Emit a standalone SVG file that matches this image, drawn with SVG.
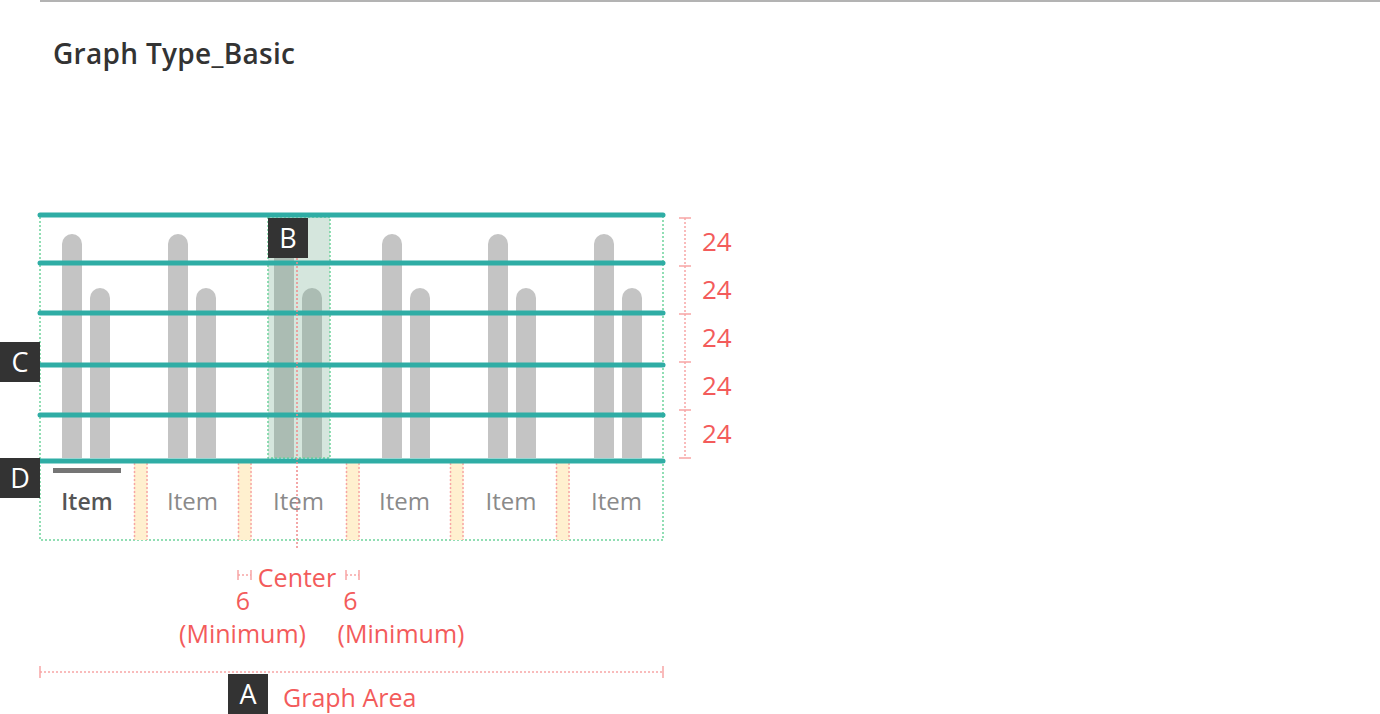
<svg xmlns="http://www.w3.org/2000/svg" width="1380" height="714" viewBox="0 0 1380 714">
<style>
.t{font-family:"Open Sans","Liberation Sans",sans-serif}
.red{fill:#f35b5b;font-size:25px}
.bar{fill:#c4c4c4}
.teal{stroke:#2fada5;stroke-width:5;stroke-linecap:round}
.gdot{fill:none;stroke:#6dd39c;stroke-width:1.5;stroke-dasharray:2 2}
.rdot{stroke:#f7a5a5;stroke-width:1.5;stroke-dasharray:2 2;fill:none}
.tick{stroke:#f7a5a5;stroke-width:1.5}
.box{fill:#333}
.boxt{fill:#fff;font-size:27px;text-anchor:middle}
.item{font-size:24px;fill:#8a8a8a;text-anchor:middle}
.gap{fill:#fff0cf}
</style>
<rect width="1380" height="714" fill="#fff"/>
<line x1="40" y1="1" x2="1380" y2="1" stroke="#b3b3b3" stroke-width="2"/>
<g id="title"><text class="t" x="53" y="64" font-size="28" font-weight="600" letter-spacing="0.3" fill="#333">Graph Type_Basic</text></g>

<g id="graph-area">
<rect class="gdot" x="40" y="215" width="623" height="325"/>
</g>

<g id="gaps">
<rect class="gap" x="134" y="463" width="13.5" height="77"/>
<rect class="gap" x="238" y="463" width="13.5" height="77"/>
<rect class="gap" x="346" y="463" width="13.5" height="77"/>
<rect class="gap" x="450" y="463" width="13.5" height="77"/>
<rect class="gap" x="556" y="463" width="13.5" height="77"/>
<path class="rdot" d="M134.5 463V540M147 463V540M238.5 463V540M251 463V540M346.5 463V540M359 463V540M450.5 463V540M463 463V540M556.5 463V540M569 463V540"/>
</g>

<g id="bars">
<path class="bar" d="M62 458V244A10 10 0 0 1 82 244V458Z"/>
<path class="bar" d="M90 458V298A10 10 0 0 1 110 298V458Z"/>
<path class="bar" d="M168 458V244A10 10 0 0 1 188 244V458Z"/>
<path class="bar" d="M196 458V298A10 10 0 0 1 216 298V458Z"/>
<path class="bar" d="M274 458V244A10 10 0 0 1 294 244V458Z"/>
<path class="bar" d="M302 458V298A10 10 0 0 1 322 298V458Z"/>
<path class="bar" d="M382 458V244A10 10 0 0 1 402 244V458Z"/>
<path class="bar" d="M410 458V298A10 10 0 0 1 430 298V458Z"/>
<path class="bar" d="M488 458V244A10 10 0 0 1 508 244V458Z"/>
<path class="bar" d="M516 458V298A10 10 0 0 1 536 298V458Z"/>
<path class="bar" d="M594 458V244A10 10 0 0 1 614 244V458Z"/>
<path class="bar" d="M622 458V298A10 10 0 0 1 642 298V458Z"/>
</g>

<g id="highlight">
<rect x="268" y="217" width="62" height="241" fill="rgb(109,168,137)" fill-opacity="0.29"/>
<rect class="gdot" x="268" y="217" width="62" height="241"/>
</g>

<g id="grid-lines">
<line class="teal" x1="40" y1="215" x2="663" y2="215"/>
<line class="teal" x1="40" y1="263" x2="663" y2="263"/>
<line class="teal" x1="40" y1="313" x2="663" y2="313"/>
<line class="teal" x1="40" y1="365" x2="663" y2="365"/>
<line class="teal" x1="40" y1="415" x2="663" y2="415"/>
<line class="teal" x1="40" y1="461" x2="663" y2="461"/>
</g>

<g id="items">
<rect x="53" y="468" width="68" height="5" fill="#757575"/>
<text class="t item" x="87" y="510" font-weight="600" style="fill:#555;font-size:23px">Item</text>
<text class="t item" x="192.5" y="510">Item</text>
<text class="t item" x="298.5" y="510">Item</text>
<text class="t item" x="404.5" y="510">Item</text>
<text class="t item" x="511" y="510">Item</text>
<text class="t item" x="616.5" y="510">Item</text>
</g>

<g id="connectors">
<line x1="297" y1="258" x2="297" y2="548" stroke="#f08a8a" stroke-width="1.5" stroke-dasharray="2 2"/>
<line class="rdot" x1="685" y1="218" x2="685" y2="458"/>
<path class="tick" d="M679 218H691M679 266H691M679 314H691M679 362H691M679 410H691M679 458H691"/>
<line class="rdot" x1="40" y1="672" x2="663" y2="672"/>
<path class="tick" d="M40 666V678M663 666V678"/>
<path class="tick" d="M238 570V580M251 570V580M346 570V580M359 570V580"/>
<path class="rdot" d="M238 575H251M346 575H359"/>
</g>

<g id="dims">
<text class="t red" x="702" y="251" style="font-size:26px">24</text>
<text class="t red" x="702" y="299" style="font-size:26px">24</text>
<text class="t red" x="702" y="347" style="font-size:26px">24</text>
<text class="t red" x="702" y="395" style="font-size:26px">24</text>
<text class="t red" x="702" y="443" style="font-size:26px">24</text>
<text class="t red" x="297" y="587" text-anchor="middle">Center</text>
<text class="t red" x="243" y="610" text-anchor="middle">6</text>
<text class="t red" x="350.5" y="610" text-anchor="middle">6</text>
<text class="t red" x="242.5" y="643" text-anchor="middle">(Minimum)</text>
<text class="t red" x="401" y="643" text-anchor="middle">(Minimum)</text>
<text class="t red" x="283" y="707">Graph Area</text>
</g>

<g id="label-A"><rect class="box" x="228" y="674" width="40" height="40"/><text class="t boxt" x="248" y="704">A</text></g>
<g id="label-B"><rect class="box" x="268" y="218" width="40" height="40"/><text class="t boxt" x="288" y="248">B</text></g>
<g id="label-C"><rect class="box" x="0" y="342" width="40" height="40"/><text class="t boxt" x="20" y="372">C</text></g>
<g id="label-D"><rect class="box" x="0" y="458" width="40" height="40"/><text class="t boxt" x="20" y="488">D</text></g>
</svg>
